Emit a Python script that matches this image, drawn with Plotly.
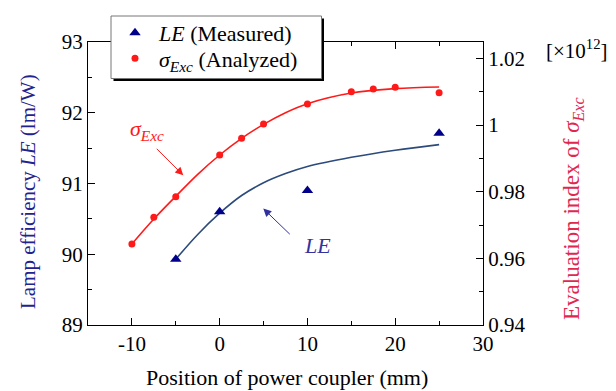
import plotly.graph_objects as go

# ---- data ----
pos_le = [-5, 0, 10, 25]
le_measured = [89.93, 90.6, 90.9, 91.71]

pos_sigma = [-10, -7.5, -5, 0, 2.5, 5, 10, 15, 17.5, 20, 25]
sigma_analyzed = [0.9643, 0.9723, 0.9785, 0.991, 0.996, 1.0003, 1.0063, 1.0100, 1.0108, 1.0113, 1.0097]

fit_le_x = [-5, -2.5, 0, 2.5, 5, 7.5, 10, 15, 20, 25]
fit_le_y = [89.93, 90.28, 90.58, 90.83, 91.01, 91.14, 91.24, 91.37, 91.47, 91.55]

fit_sig_x = [-10, -7.5, -5, -2.5, 0, 2.5, 5, 7.5, 10, 15, 20, 25]
fit_sig_y = [0.9643, 0.9718, 0.9786, 0.9852, 0.9910, 0.9960, 1.0002, 1.0037, 1.0064, 1.0096, 1.0109, 1.0114]

x_ticks = [-10, 0, 10, 20, 30]
x_ticktext = ["-10", "0", "10", "20", "30"]
left_ticks = [89, 90, 91, 92, 93]
right_ticks = [0.94, 0.96, 0.98, 1.00, 1.02]
right_ticktext = ["0.94", "0.96", "0.98", "1", "1.02"]

FONT = "Liberation Serif"
NAVY = "#00008b"
RED = "#ff1a1a"

W, H = 616, 391
L, R, T, B = 88, 133, 42, 66
PW, PH = W - L - R, H - T - B


def px(xp):
    return (xp - L) / PW


def py(yp):
    return (H - B - yp) / PH


fig = go.Figure()

fig.add_trace(go.Scatter(x=fit_le_x, y=fit_le_y, mode="lines",
                         line=dict(color="#2c4a7c", width=1.6, shape="spline"),
                         showlegend=False, yaxis="y"))
fig.add_trace(go.Scatter(x=fit_sig_x, y=fit_sig_y, mode="lines",
                         line=dict(color=RED, width=1.6, shape="spline"),
                         showlegend=False, yaxis="y2"))
fig.add_trace(go.Scatter(x=pos_le, y=le_measured, mode="markers",
                         marker=dict(symbol="triangle-up", size=10, color=NAVY),
                         name="<i>LE</i> (Measured)", yaxis="y", legend="legend"))
fig.add_trace(go.Scatter(x=pos_sigma, y=sigma_analyzed, mode="markers",
                         marker=dict(symbol="circle", size=7, color=RED),
                         name="<i>σ<sub>Exc</sub></i> (Analyzed)", yaxis="y2", legend="legend2"))

axis_common = dict(showline=True, linecolor="black", linewidth=1.3, showgrid=False,
                   zeroline=False, ticks="inside", ticklen=7, tickcolor="black",
                   tickwidth=1, tickfont=dict(family=FONT, size=21, color="black"))

legend_common = dict(xanchor="left", yanchor="middle", bgcolor="rgba(0,0,0,0)",
                     borderwidth=0, font=dict(family=FONT, size=22, color="black"),
                     itemwidth=38)

fig.update_layout(
    width=W, height=H,
    margin=dict(l=L, r=R, t=T, b=B),
    paper_bgcolor="white", plot_bgcolor="white",
    font=dict(family=FONT, size=18, color="black"),
    xaxis=dict(range=[-15, 30], tickvals=x_ticks, ticktext=x_ticktext, mirror="ticks",
               minor=dict(ticks="inside", ticklen=4, dtick=5, tick0=-15, tickcolor="black"),
               **axis_common),
    yaxis=dict(range=[89, 93], tickvals=left_ticks,
               minor=dict(ticks="inside", ticklen=4, dtick=0.5, tickcolor="black"),
               **axis_common),
    yaxis2=dict(range=[0.94, 1.0249], overlaying="y", side="right", anchor="x",
                tickvals=right_ticks, ticktext=right_ticktext,
                minor=dict(ticks="inside", ticklen=4, dtick=0.01, tick0=0.94, tickcolor="black"),
                **axis_common),
    legend=dict(x=px(111), y=py(33), **legend_common),
    legend2=dict(x=px(111), y=py(58.5), **legend_common),
    shapes=[
        dict(type="rect", xref="paper", yref="paper",
             x0=px(113.5), x1=px(324), y0=py(81), y1=py(18.5),
             fillcolor="black", line=dict(width=0), layer="above"),
        dict(type="rect", xref="paper", yref="paper",
             x0=px(111), x1=px(321.5), y0=py(78.5), y1=py(16),
             fillcolor="white", line=dict(width=1, color="#777"), layer="above"),
    ],
)

annos = [
    # axis titles
    dict(x=px(287), y=py(377), text="Position of power coupler (mm)", textangle=0,
         font=dict(size=22, color="black")),
    dict(x=px(28), y=py(192), text="Lamp efficiency <i>LE</i> (lm/W)", textangle=-90,
         font=dict(size=21, color="#23238f")),
    dict(x=px(573), y=py(209), text="Evaluation index of <i>σ<sub>Exc</sub></i>", textangle=-90,
         font=dict(size=23, color="#e0284f")),
    dict(x=px(577), y=py(50), text="[×10<sup>12</sup>]", font=dict(size=21, color="black")),
]
for a in annos:
    a.update(xref="paper", yref="paper", showarrow=False, xanchor="center", yanchor="middle")
    a["font"]["family"] = FONT
    fig.add_annotation(**a)

# curve labels with arrows
fig.add_annotation(x=-8.28, y=91.75, xref="x", yref="y", text="<i>σ<sub>Exc</sub></i>",
                   showarrow=False, font=dict(family=FONT, size=22, color=RED))
fig.add_annotation(x=11.2, y=90.13, xref="x", yref="y", text="<i>LE</i>",
                   showarrow=False, font=dict(family=FONT, size=22, color="#3333a0"))
fig.add_annotation(x=-4.15, y=91.116, xref="x", yref="y", text="", showarrow=True,
                   ax=-28, ay=-28, arrowhead=2, arrowsize=1.6, arrowwidth=1,
                   arrowcolor=RED)
fig.add_annotation(x=4.97, y=90.645, xref="x", yref="y", text="", showarrow=True,
                   ax=28, ay=27, arrowhead=2, arrowsize=1.6, arrowwidth=1,
                   arrowcolor="#3030a0")

fig.write_html("out.html")
